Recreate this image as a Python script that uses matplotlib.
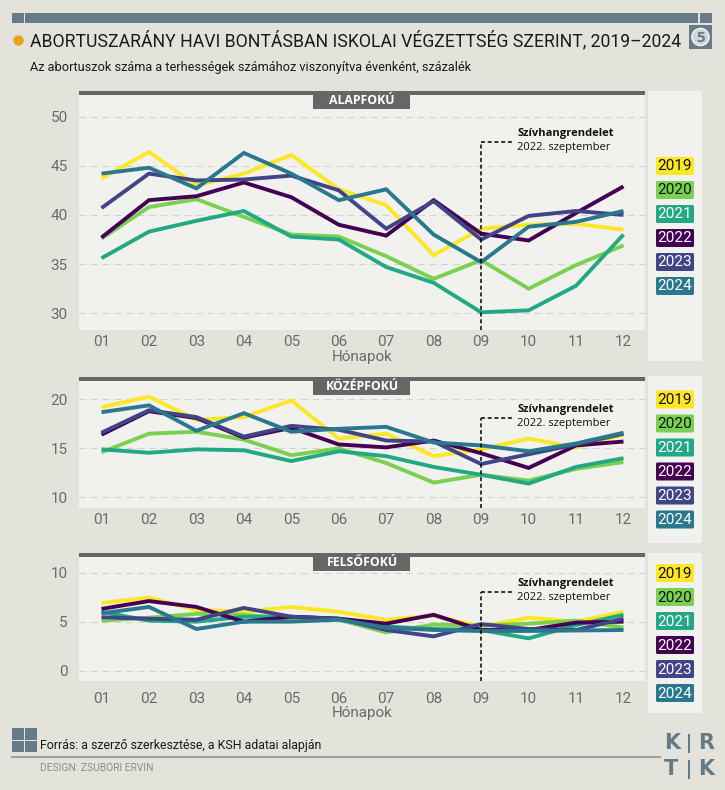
import matplotlib
matplotlib.use("Agg")
import matplotlib.pyplot as plt
from matplotlib.patches import Rectangle, FancyBboxPatch, Circle
from matplotlib import font_manager as fm

# ---------------- data ----------------
months = ['01', '02', '03', '04', '05', '06', '07', '08', '09', '10', '11', '12']
years = ['2019', '2020', '2021', '2022', '2023', '2024']

alap_2019 = [43.7, 46.4, 43.0, 44.2, 46.1, 42.6, 41.0, 35.9, 38.6, 39.0, 39.1, 38.5]
alap_2020 = [37.6, 40.8, 41.6, 39.8, 38.0, 37.8, 35.8, 33.5, 35.4, 32.5, 34.9, 36.9]
alap_2021 = [35.6, 38.3, 39.4, 40.4, 37.8, 37.5, 34.7, 33.1, 30.1, 30.3, 32.8, 38.0]
alap_2022 = [37.7, 41.5, 41.9, 43.3, 41.8, 39.0, 37.9, 41.5, 38.1, 37.4, 40.2, 42.9]
alap_2023 = [40.7, 44.2, 43.5, 43.6, 44.0, 42.5, 38.6, 41.4, 37.5, 39.9, 40.4, 40.0]
alap_2024 = [44.2, 44.8, 42.7, 46.3, 44.2, 41.5, 42.6, 38.0, 35.2, 38.8, 39.3, 40.4]

kozep_2019 = [19.2, 20.3, 17.9, 18.2, 19.9, 16.0, 16.5, 14.2, 14.9, 16.0, 15.1, 16.4]
kozep_2020 = [14.6, 16.5, 16.7, 15.9, 14.3, 15.0, 13.5, 11.5, 12.3, 11.7, 12.9, 13.6]
kozep_2021 = [14.9, 14.55, 14.9, 14.8, 13.7, 14.7, 14.2, 13.1, 12.3, 11.4, 13.1, 14.0]
kozep_2022 = [16.4, 18.8, 18.1, 16.1, 17.1, 15.4, 15.1, 15.8, 14.5, 13.0, 15.3, 15.7]
kozep_2023 = [16.6, 18.9, 18.2, 16.2, 17.3, 16.9, 15.8, 15.7, 13.4, 14.4, 15.4, 16.5]
kozep_2024 = [18.7, 19.4, 16.8, 18.6, 16.7, 17.0, 17.2, 15.6, 15.3, 14.7, 15.5, 16.6]

felso_2019 = [6.9, 7.45, 6.2, 6.0, 6.5, 6.0, 5.2, 5.6, 4.5, 5.4, 5.0, 6.0]
felso_2020 = [5.1, 5.4, 5.8, 5.7, 5.3, 5.2, 3.9, 4.7, 4.6, 4.8, 5.1, 4.4]
felso_2021 = [6.0, 5.1, 5.0, 5.5, 5.5, 5.3, 4.5, 4.25, 4.15, 3.3, 4.65, 5.7]
felso_2022 = [6.3, 7.1, 6.5, 5.0, 5.5, 5.3, 4.8, 5.7, 4.15, 4.15, 4.9, 5.0]
felso_2023 = [5.45, 5.3, 5.2, 6.4, 5.5, 5.3, 4.15, 3.5, 4.75, 4.25, 4.15, 5.3]
felso_2024 = [5.85, 6.5, 4.25, 5.0, 5.0, 5.2, 4.4, 4.15, 4.05, 4.05, 4.1, 4.15]

panel_titles = ['ALAPFOKÚ', 'KÖZÉPFOKÚ', 'FELSŐFOKÚ']
panel_data = [
    [alap_2019, alap_2020, alap_2021, alap_2022, alap_2023, alap_2024],
    [kozep_2019, kozep_2020, kozep_2021, kozep_2022, kozep_2023, kozep_2024],
    [felso_2019, felso_2020, felso_2021, felso_2022, felso_2023, felso_2024],
]
panel_yticks = [[30, 35, 40, 45, 50], [10, 15, 20], [0, 5, 10]]
annot_month = 9
annot_y = [47.4, 18.1, 8.0]
annot_title = 'Szívhangrendelet'
annot_sub = '2022. szeptember'
title = 'ABORTUSZARÁNY HAVI BONTÁSBAN ISKOLAI VÉGZETTSÉG SZERINT, 2019–2024'
subtitle = 'Az abortuszok száma a terhességek számához viszonyítva évenként, százalék'
xlabel = 'Hónapok'
source = 'Forrás: a szerző szerkesztése, a KSH adatai alapján'
design = 'DESIGN: ZSUBORI ERVIN'

# ---------------- style ----------------
colors = ['#fde725', '#7ad151', '#22a884', '#440154', '#414487', '#2a788e']
text_on = ['#111111', '#111111', 'white', 'white', 'white', 'white']
FIG_BG = '#e3e3dc'
PANEL_BG = '#f1f1ed'
SLATE = '#677a88'
DARK = '#666666'
TICK_C = '#6a6a6a'


def has_font(name):
    try:
        fm.findfont(fm.FontProperties(family=name), fallback_to_default=False)
        return True
    except Exception:
        return False


NARROW = 'Liberation Sans Narrow' if has_font('Liberation Sans Narrow') else 'Roboto'
TICKF = 'Roboto' if has_font('Roboto') else 'DejaVu Sans'
ANNF = 'Open Sans' if has_font('Open Sans') else 'DejaVu Sans'

W, H = 725, 790
fig = plt.figure(figsize=(W / 100, H / 100), dpi=100)
fig.patch.set_facecolor(FIG_BG)


def pxax(x0, y0, x1, y1, z):
    a = fig.add_axes([x0 / W, 1 - y1 / H, (x1 - x0) / W, (y1 - y0) / H], zorder=z)
    return a


bg = fig.add_axes([0, 0, 1, 1], zorder=0)
bg.set_xlim(0, W); bg.set_ylim(H, 0); bg.axis('off')
fg = fig.add_axes([0, 0, 1, 1], zorder=20)
fg.set_xlim(0, W); fg.set_ylim(H, 0); fg.axis('off')
fg.patch.set_alpha(0)

# panel pixel geometry
ax_x0, ax_x1 = 79, 645
panel_y = [(91, 330), (377, 508), (553, 681)]
legend_cols = [(91, 361), (376, 543), (553, 713)]
tick_pad = [3.8, 3.8, 7.8]
xlabel_y = [356.7, None, 713.3]
x01, x12 = 101.5, 623.5
step = (x12 - x01) / 11
xlim = (1 - (x01 - ax_x0) / step, 12 + (ax_x1 - x12) / step)
ylims = [(28.3, 52.6), (8.9, 22.3), (-1.05, 12.0)]

for p in range(3):
    y0, y1 = panel_y[p]
    ax = pxax(ax_x0, y0, ax_x1, y1, 5)
    ax.set_facecolor(PANEL_BG)
    for s in ax.spines.values():
        s.set_visible(False)
    x = list(range(1, 13))
    order = [0, 1, 2, 4, 5, 3]
    for i in order:
        ax.plot(x, panel_data[p][i], color=colors[i], lw=2.8, solid_joinstyle='miter',
                solid_capstyle='butt', zorder=3 + i * 0.1)
    ax.set_xlim(*xlim)
    ax.set_ylim(*ylims[p])
    ax.set_yticks(panel_yticks[p])
    ax.set_xticks(x)
    ax.set_xticklabels(months)
    ax.tick_params(length=0, labelsize=11, labelcolor=TICK_C)
    ax.tick_params(axis='y', pad=8)
    ax.tick_params(axis='x', pad=tick_pad[p])
    for lab in ax.get_xticklabels() + ax.get_yticklabels():
        lab.set_fontfamily(TICKF)
    ax.grid(axis='y', color='#d2d2ce', lw=0.8, ls=(0, (6, 4.5)))
    ax.set_axisbelow(True)
    # annotation
    ya = annot_y[p]
    ax.plot([annot_month, annot_month], [ylims[p][0], ya], color='black', lw=1.1,
            ls=(0, (2.6, 1.8)), zorder=6, clip_on=False)
    ax.plot([annot_month, annot_month + 0.7], [ya, ya], color='black', lw=1.1,
            ls=(0, (2.6, 1.8)), zorder=6)
    ax.annotate(annot_title, xy=(annot_month + 0.76, ya), xytext=(0, 6.0),
                textcoords='offset points', ha='left', va='center', fontsize=8,
                fontweight='bold', family=ANNF, color='#111111', zorder=7)
    ax.annotate(annot_sub, xy=(annot_month + 0.76, ya), xytext=(0, -3.6),
                textcoords='offset points', ha='left', va='center', fontsize=8,
                family=ANNF, color='#111111', zorder=7)
    # top bar + label box
    fg.add_patch(Rectangle((ax_x0, y0), ax_x1 - ax_x0, 4, color=DARK, lw=0))
    cx = (ax_x0 + ax_x1) / 2
    fg.add_patch(Rectangle((cx - 48.5, y0), 97, 17.5, color=DARK, lw=0))
    fg.text(cx, y0 + 9.5, panel_titles[p], ha='center', va='center', color='white',
            fontsize=8.8, fontweight='bold', family=ANNF)
    # x label
    if xlabel_y[p] is not None:
        fg.text(cx, xlabel_y[p], xlabel, ha='center', va='center', color=TICK_C,
                fontsize=11, family=TICKF)
    # legend column
    c0, c1 = legend_cols[p]
    bg.add_patch(Rectangle((648, c0), 54, c1 - c0, color=PANEL_BG, lw=0))
    cc = (c0 + c1) / 2
    for i, yr in enumerate(years):
        yc = cc + (i - 2.5) * 24
        fg.add_patch(FancyBboxPatch((656, yc - 9), 38, 18,
                                    boxstyle='round,pad=0,rounding_size=1.5',
                                    color=colors[i], lw=0))
        fg.text(675, yc + 0.5, yr, ha='center', va='center', color=text_on[i],
                fontsize=11, family=TICKF)

# ---------------- header ----------------
fg.add_patch(Rectangle((12.5, 12.7), 11.5, 10.6, color=SLATE, lw=0))
fg.add_patch(Rectangle((25.4, 12.7), 672.6, 10.6, color=SLATE, lw=0))
fg.add_patch(Rectangle((700, 12.7), 12, 10.6, color=SLATE, lw=0))
fg.add_patch(Rectangle((689, 25), 23, 24, color=SLATE, lw=0))
fg.add_patch(Circle((700.5, 37), 8.5, facecolor='#cfd5da', edgecolor='#eef0f2', lw=1.2))
fg.text(700.5, 37.5, '5', ha='center', va='center', color=SLATE, fontsize=11,
        fontweight='bold', family=ANNF)
fg.add_patch(Circle((18.5, 40.5), 5.2, color='#e9a319', lw=0))

renderer = fig.canvas.get_renderer()


def fit(t, width):
    w = t.get_window_extent(renderer).width
    t.set_fontsize(t.get_fontsize() * width / w)


t_title = fg.text(30, 41, title, ha='left', va='center', color='#1a1a1a',
                  fontsize=15, family=NARROW)
fit(t_title, 652)
t_sub = fg.text(30, 67.5, subtitle, ha='left', va='center', color='#1a1a1a',
                fontsize=9, family=NARROW)
fit(t_sub, 442)

# ---------------- footer ----------------
for (fx, fy) in [(12.5, 728), (25.5, 728), (12.5, 740.5), (25.5, 740.5)]:
    fg.add_patch(Rectangle((fx, fy), 11.5, 11.5, color=SLATE, lw=0))
t_src = fg.text(40.5, 746, source, ha='left', va='center', color='#1a1a1a',
                fontsize=9, family=NARROW)
fit(t_src, 283)
fg.plot([12, 660], [756.5, 756.5], color='#8a9aa6', lw=1.3)
t_des = fg.text(40.5, 768, design, ha='left', va='center', color='#8c8c8c',
                fontsize=6, family=NARROW)
fit(t_des, 114)
# logo
fg.text(664, 743, 'K', ha='left', va='center', color=SLATE, fontsize=15,
        fontweight='bold', family='DejaVu Sans')
fg.text(714, 743, 'R', ha='right', va='center', color=SLATE, fontsize=15,
        fontweight='bold', family='DejaVu Sans')
fg.text(664, 769, 'T', ha='left', va='center', color=SLATE, fontsize=15,
        fontweight='bold', family='DejaVu Sans')
fg.text(714, 769, 'K', ha='right', va='center', color=SLATE, fontsize=15,
        fontweight='bold', family='DejaVu Sans')
fg.add_patch(Rectangle((688.5, 734), 2, 19, color=SLATE, lw=0))
fg.add_patch(Rectangle((688.5, 760), 2, 19, color=SLATE, lw=0))

fig.savefig('out.png', dpi=100, facecolor=FIG_BG)
